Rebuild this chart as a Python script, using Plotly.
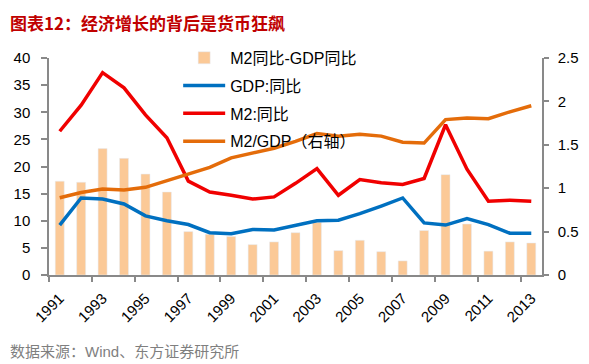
import plotly.graph_objects as go

years = [str(y) for y in range(1991, 2014)]
spread = [17.3, 17.1, 23.3, 21.5, 18.6, 15.3, 8.0, 7.5, 7.1, 5.6, 6.1, 7.8, 9.7,
          4.5, 6.4, 4.3, 2.6, 8.2, 18.5, 9.4, 4.4, 6.1, 5.9]
gdp = [9.2, 14.2, 14.0, 13.1, 10.9, 10.0, 9.3, 7.8, 7.6, 8.4, 8.3, 9.1, 10.0,
       10.1, 11.3, 12.7, 14.2, 9.6, 9.2, 10.4, 9.3, 7.7, 7.7]
m2 = [26.5, 31.3, 37.3, 34.5, 29.5, 25.3, 17.3, 15.3, 14.7, 14.0, 14.4, 16.9, 19.6,
      14.7, 17.6, 17.0, 16.7, 17.8, 27.7, 19.5, 13.6, 13.8, 13.6]
m2_gdp = [0.89, 0.95, 0.99, 0.98, 1.01, 1.09, 1.16, 1.24, 1.35, 1.40, 1.46, 1.54, 1.63,
          1.60, 1.62, 1.60, 1.53, 1.52, 1.79, 1.81, 1.80, 1.88, 1.95]

idx = list(range(len(years)))
FONT = "Liberation Sans, Noto Sans CJK SC, sans-serif"
AX = "#898989"

W, H = 581, 356
L, R, T, B = 41, 47, 49.5, 89
PW, PH = W - L - R, H - T - B

fig = go.Figure()
fig.add_trace(go.Bar(x=idx, y=spread, name="M2同比-GDP同比", marker_color="#FBC997",
                     width=0.42, legendgroup="a"))
fig.add_trace(go.Scatter(x=idx, y=gdp, name="GDP:同比", mode="lines",
                         line=dict(color="#0070C0", width=3.5), legendgroup="b"))
fig.add_trace(go.Scatter(x=idx, y=m2, name="M2:同比", mode="lines",
                         line=dict(color="#F00000", width=3.5), legendgroup="c"))
fig.add_trace(go.Scatter(x=idx, y=m2_gdp, name="M2/GDP（右轴）", mode="lines",
                         line=dict(color="#E46C0A", width=3.5), yaxis="y2", legendgroup="d"))

fig.update_layout(
    width=W, height=H,
    margin=dict(l=L, r=R, t=T, b=B, autoexpand=False),
    paper_bgcolor="white", plot_bgcolor="white",
    font=dict(family=FONT, size=15, color="#000000"),
    showlegend=True,
    legend=dict(x=0.262, y=1.079, xanchor="left", yanchor="top",
                bgcolor="rgba(0,0,0,0)", font=dict(size=16),
                traceorder="grouped", tracegroupgap=4, itemwidth=42),
    xaxis=dict(range=[-0.5, 22.5], tickmode="array", tickvals=idx[::2],
               ticktext=years[::2], tickangle=-45, ticks="", showgrid=False,
               showline=True, linecolor=AX, linewidth=1.5, zeroline=False,
               ticklabelstandoff=7,
               minor=dict(tickmode="array", tickvals=[i - 0.5 for i in idx[::2]],
                          ticks="outside", ticklen=5, tickcolor=AX, tickwidth=1.5)),
    yaxis=dict(range=[0, 40], dtick=5, ticks="outside", ticklen=6, tickcolor=AX,
               tickwidth=1.5, showline=True, linecolor=AX, linewidth=1.5,
               showgrid=False, zeroline=False, ticklabelstandoff=8),
    yaxis2=dict(range=[0, 2.5], dtick=0.5, overlaying="y", side="right",
                ticks="outside", ticklen=5, tickcolor=AX, tickwidth=1.5,
                showline=True, linecolor=AX, linewidth=1.5, showgrid=False,
                zeroline=False, ticklabelstandoff=6),
    bargap=0.58,
)

fig.add_annotation(text="图表12：经济增长的背后是货币狂飙", xref="paper", yref="paper",
                   x=-L / PW, y=(H - B - 0.5) / PH, xanchor="left", yanchor="top",
                   xshift=1, showarrow=False, borderpad=0,
                   font=dict(family="Noto Sans CJK SC", size=17, color="#C00000", weight="bold"))
fig.add_annotation(text="数据来源：Wind、东方证券研究所", xref="paper", yref="paper",
                   x=-L / PW, y=-(344 - (H - B)) / PH, xanchor="left", yanchor="middle",
                   xshift=0, showarrow=False,
                   font=dict(family=FONT, size=15, color="#7F7F7F"))

fig.write_html("out.html")
